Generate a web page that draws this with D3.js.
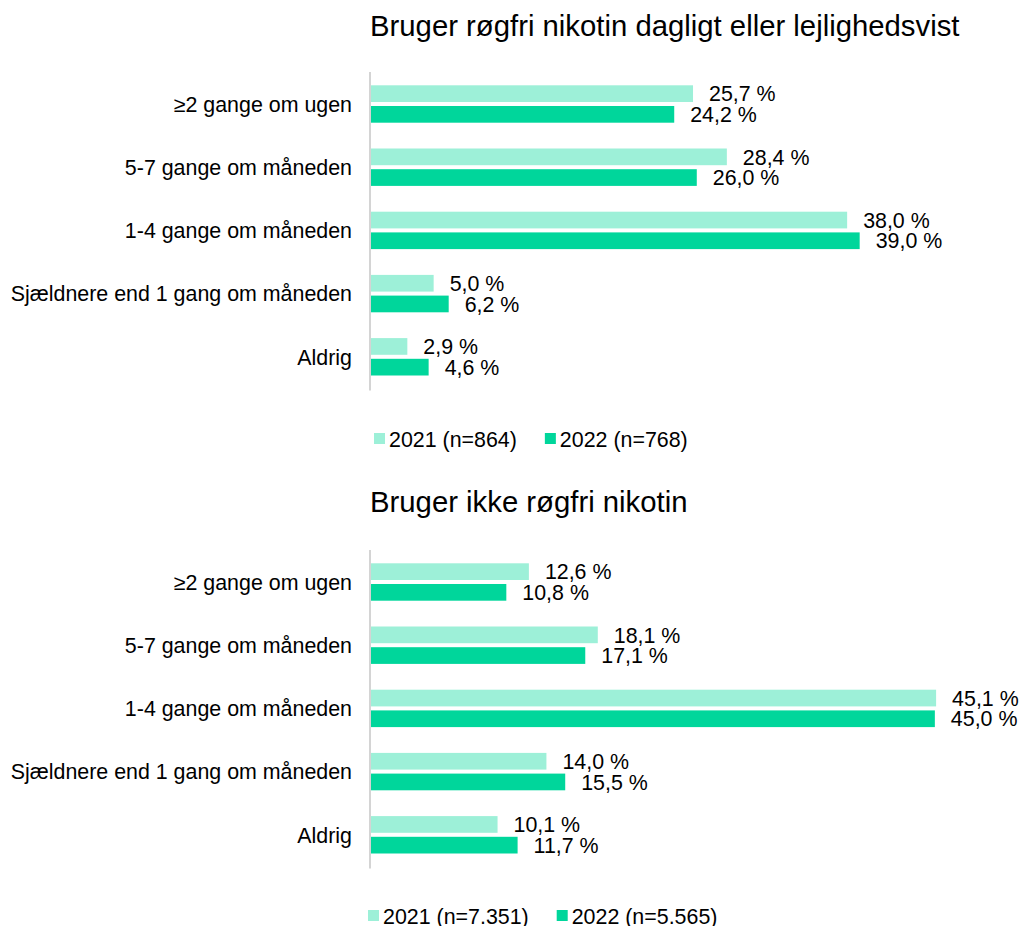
<!DOCTYPE html>
<html>
<head>
<meta charset="utf-8">
<script src="https://cdn.jsdelivr.net/npm/d3@7"></script>
<style>
  body { margin: 0; background: #fff; }
  svg { display: block; font-family: "Liberation Sans", Arial, sans-serif; }
</style>
</head>
<body>
<div id="chart"></div>
<script>
'use strict'

// the data
const categories = ['≥2 gange om ugen', '5-7 gange om måneden', '1-4 gange om måneden', 'Sjældnere end 1 gang om måneden', 'Aldrig']
const series = ['2021', '2022']
const titles = ['Bruger røgfri nikotin dagligt eller lejlighedsvist', 'Bruger ikke røgfri nikotin']
const legendTop = ['2021 (n=864)', '2022 (n=768)']
const legendBottom = ['2021 (n=7.351)', '2022 (n=5.565)']
const usersValues2021 = [25.7, 28.4, 38.0, 5.0, 2.9]
const usersValues2022 = [24.2, 26.0, 39.0, 6.2, 4.6]
const nonUsersValues2021 = [12.6, 18.1, 45.1, 14.0, 10.1]
const nonUsersValues2022 = [10.8, 17.1, 45.0, 15.5, 11.7]

const colors = { '2021': '#9df0d8', '2022': '#00d69b' }
const fontSize = 21.4

var W = 1019, H = 926
var svg = d3.select('#chart').append('svg')
    .attr('width', W)
    .attr('height', H)

var locale = d3.formatLocale({ decimal: ',', thousands: '.', grouping: [3], currency: ['', ''] })
var fmt = locale.format('.1f')

// shared horizontal scale
var x = d3.scaleLinear().domain([0, 50]).range([371, 371 + 626.5])

function panel(opts) {
    var rows = categories.map((c, i) => ({ cat: c, '2021': opts.v21[i], '2022': opts.v22[i] }))
    var y0 = d3.scaleBand().domain(categories).range([opts.top, opts.top + 316]).padding(0)
    var y1 = d3.scaleBand().domain(series).range([12.9, 50.3]).paddingInner(0.193)

    var g = svg.append('g')

    // title
    g.append('text')
        .attr('x', 370)
        .attr('y', opts.titleY)
        .attr('font-size', 29.3)
        .attr('fill', '#000')
        .text(opts.title)

    // bars
    var groups = g.selectAll('g.cat')
        .data(rows)
        .enter().append('g')
        .attr('class', 'cat')
        .attr('transform', d => `translate(0,${y0(d.cat)})`)

    groups.selectAll('rect')
        .data(d => series.map(s => ({ s: s, v: d[s] })))
        .enter().append('rect')
        .attr('x', x(0))
        .attr('y', d => y1(d.s))
        .attr('width', d => x(d.v) - x(0))
        .attr('height', y1.bandwidth())
        .attr('fill', d => colors[d.s])

    groups.selectAll('text.val')
        .data(d => series.map(s => ({ s: s, v: d[s] })))
        .enter().append('text')
        .attr('class', 'val')
        .attr('x', d => x(d.v) + 16)
        .attr('y', d => y1(d.s) + y1.bandwidth() / 2 + fontSize * 0.36)
        .attr('font-size', fontSize)
        .attr('fill', '#000')
        .text(d => fmt(d.v) + ' %')

    // category labels
    g.selectAll('text.cat')
        .data(categories)
        .enter().append('text')
        .attr('class', 'cat')
        .attr('x', 352)
        .attr('y', d => y0(d) + y0.bandwidth() / 2 + fontSize * 0.36)
        .attr('text-anchor', 'end')
        .attr('font-size', fontSize)
        .attr('fill', '#000')
        .text(d => d)

    // the y axis line
    g.append('line')
        .attr('x1', x(0) - 1).attr('x2', x(0) - 1)
        .attr('y1', opts.top - 0.5).attr('y2', opts.top + 318)
        .attr('stroke', '#d4d4d4')
        .attr('stroke-width', 2)

    // legend
    var lx = opts.legendX
    series.forEach((s, i) => {
        g.append('rect')
            .attr('x', lx)
            .attr('y', opts.legendY - 13.5)
            .attr('width', 11)
            .attr('height', 11)
            .attr('fill', colors[s])
        var t = g.append('text')
            .attr('x', lx + 15)
            .attr('y', opts.legendY)
            .attr('font-size', fontSize)
            .attr('fill', '#000')
            .text(opts.legend[i])
        lx = lx + 15 + t.node().getComputedTextLength() + 28
    })
}

panel({ title: titles[0], titleY: 36, top: 72.4, v21: usersValues2021, v22: usersValues2022, legend: legendTop, legendX: 374, legendY: 446.5 })
panel({ title: titles[1], titleY: 512, top: 550.4, v21: nonUsersValues2021, v22: nonUsersValues2022, legend: legendBottom, legendX: 368, legendY: 923.5 })
</script>
</body>
</html>
